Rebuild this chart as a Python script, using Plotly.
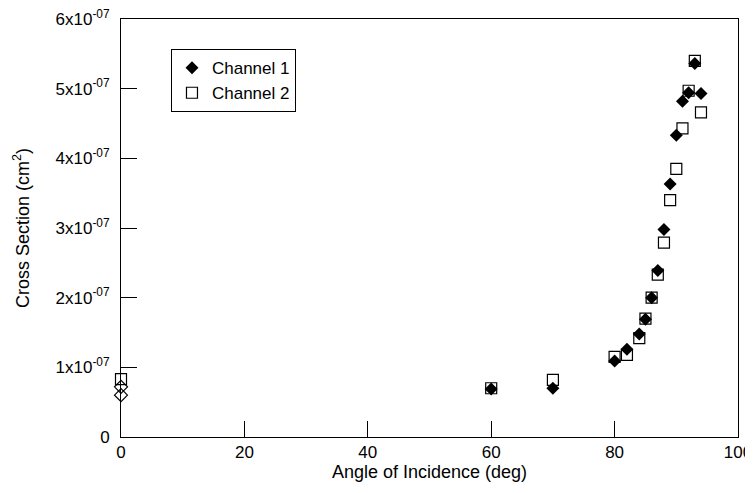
import plotly.graph_objects as go

# Channel 1 (filled diamonds)
ch1_angle = [60, 70, 80, 82, 84, 85, 86, 87, 88, 89, 90, 91, 92, 93, 94]
ch1_xsec = [0.69e-7, 0.70e-7, 1.09e-7, 1.26e-7, 1.48e-7, 1.69e-7, 2.00e-7, 2.39e-7,
            2.98e-7, 3.63e-7, 4.33e-7, 4.82e-7, 4.94e-7, 5.36e-7, 4.93e-7]

# Channel 2 (open squares)
ch2_angle = [60, 70, 80, 82, 84, 85, 86, 87, 88, 89, 90, 91, 92, 93, 94]
ch2_xsec = [0.70e-7, 0.82e-7, 1.15e-7, 1.18e-7, 1.42e-7, 1.70e-7, 2.00e-7, 2.33e-7,
            2.79e-7, 3.40e-7, 3.85e-7, 4.43e-7, 4.97e-7, 5.40e-7, 4.66e-7]

# Normal incidence points (open markers, not in legend)
n_diamond_angle = [0, 0]
n_diamond_xsec = [0.72e-7, 0.60e-7]
n_square_angle = [0]
n_square_xsec = [0.83e-7]

x_ticks = [0, 20, 40, 60, 80, 100]
y_ticks = [0, 1e-7, 2e-7, 3e-7, 4e-7, 5e-7, 6e-7]
y_ticktext = ["0", "1x10<sup>-07</sup>", "2x10<sup>-07</sup>", "3x10<sup>-07</sup>",
              "4x10<sup>-07</sup>", "5x10<sup>-07</sup>", "6x10<sup>-07</sup>"]

FONT = "Liberation Sans, Arial, sans-serif"
FS = 17
TFS = 18

fig = go.Figure()
fig.add_trace(go.Scatter(
    x=n_square_angle, y=n_square_xsec, mode="markers", showlegend=False,
    marker=dict(symbol="square-open", size=11, color="black", line=dict(width=1.2)),
    cliponaxis=False))
fig.add_trace(go.Scatter(
    x=n_diamond_angle, y=n_diamond_xsec, mode="markers", showlegend=False,
    marker=dict(symbol="diamond-open", size=10, color="black", line=dict(width=1.2)),
    cliponaxis=False))
fig.add_trace(go.Scatter(
    x=ch2_angle, y=ch2_xsec, mode="markers", name="Channel 2",
    marker=dict(symbol="square-open", size=11, color="black", line=dict(width=1.2)),
    cliponaxis=False))
fig.add_trace(go.Scatter(
    x=ch1_angle, y=ch1_xsec, mode="markers", name="Channel 1",
    marker=dict(symbol="diamond", size=10, color="black", line=dict(width=0)),
    cliponaxis=False))

# the page body adds an 8px offset, so the figure is 745x485
fig.update_layout(
    width=745, height=485,
    margin=dict(l=113, r=15, t=11, b=56, autoexpand=False),
    plot_bgcolor="white", paper_bgcolor="white",
    font=dict(family=FONT, size=FS, color="black"),
    legend=dict(x=0.081, y=0.928, xanchor="left", yanchor="top",
                bordercolor="black", borderwidth=1, bgcolor="white",
                traceorder="reversed", font=dict(size=FS),
                itemwidth=30, tracegroupgap=0),
    xaxis=dict(range=[0, 100], tickvals=x_ticks, ticks="inside", ticklen=16,
               tickcolor="black", showline=True, linecolor="black", linewidth=1,
               mirror=True, showgrid=False, zeroline=False, automargin=False,
               tickfont=dict(size=FS), ticklabeloverflow="allow",
               title=dict(text="Angle of Incidence (deg)", standoff=3,
                          font=dict(size=TFS))),
    yaxis=dict(range=[0, 6e-7], tickvals=y_ticks, ticktext=y_ticktext,
               ticks="inside", ticklen=16, tickcolor="black",
               showline=True, linecolor="black", linewidth=1, mirror=True,
               showgrid=False, zeroline=False, automargin=False,
               tickfont=dict(size=FS), ticklabelstandoff=7,
               ticklabeloverflow="allow",
               title=dict(text="Cross Section (cm<sup>2</sup>)", standoff=21,
                          font=dict(size=TFS))),
)

fig.write_html("out.html")
